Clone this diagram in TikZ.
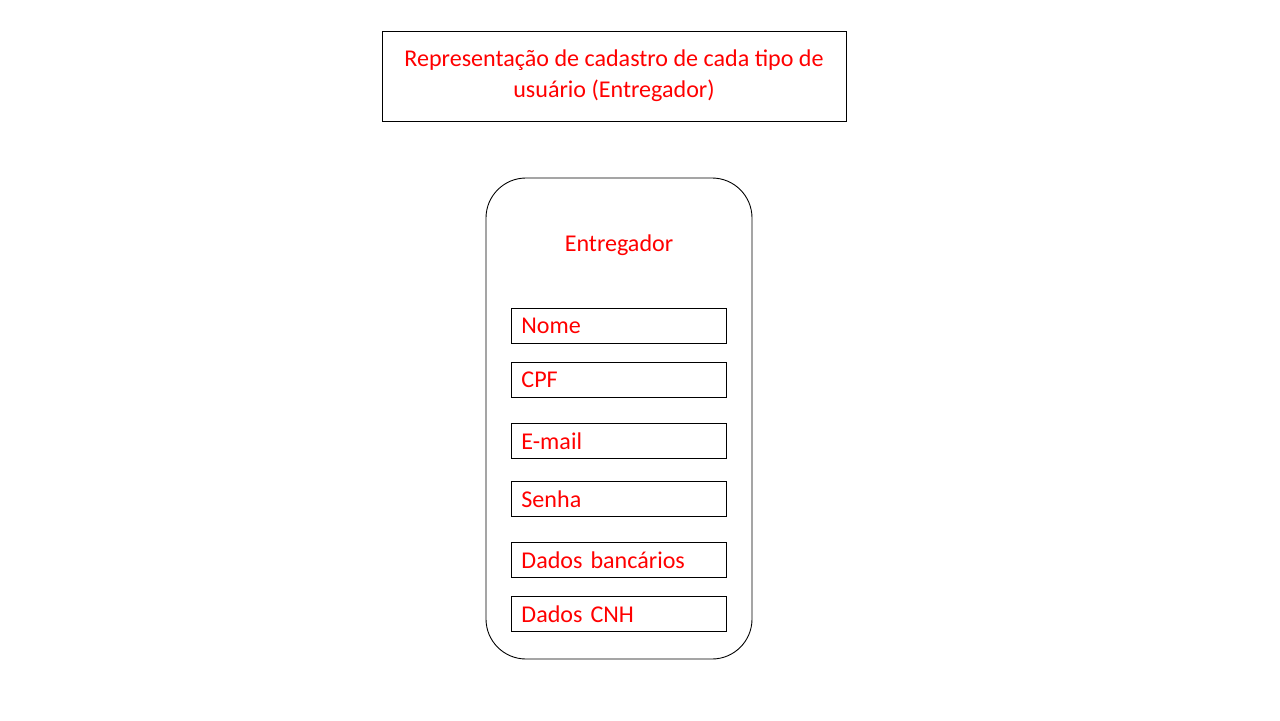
\documentclass[tikz,border=0pt]{standalone}
\usepackage{fontspec}
\setmainfont{Carlito}
\tikzset{
  rotulo/.style={text=red, font=\fontsize{13.7}{17.5}\selectfont},
  campo/.style={rotulo, draw=black, line width=0.5pt, anchor=north west,
    minimum width=4.3cm, minimum height=0.7cm, inner xsep=0.2cm,
    text width=3.9cm, align=left},
}
\begin{document}
\begin{tikzpicture}[x=0.02cm,y=-0.02cm]
            \useasboundingbox (0,0) rectangle (1280,720);
            % titulo
            \node[rotulo, draw=black, line width=0.5pt, minimum width=9.28cm, minimum height=1.8cm, align=center] (titulo) at (614,76) {Representação de cadastro de cada tipo de\\usuário (Entregador)};
            % tela do app
            \draw[line width=0.5pt, rounded corners=0.8cm] (486,178) rectangle (752,659);
            \node[rotulo] (entregador) at (619,245) {Entregador};
            \node[campo] (nome) at (511,308) {Nome};
            \node[campo] (cpf) at (511,362) {CPF};
            \node[campo] (email) at (511,423) {E-mail};
            \node[campo] (senha) at (511,481) {Senha};
            \node[campo] (banco) at (511,542) {Dados bancários};
            \node[campo] (cnh) at (511,596) {Dados CNH};
        \end{tikzpicture}
\end{document}
